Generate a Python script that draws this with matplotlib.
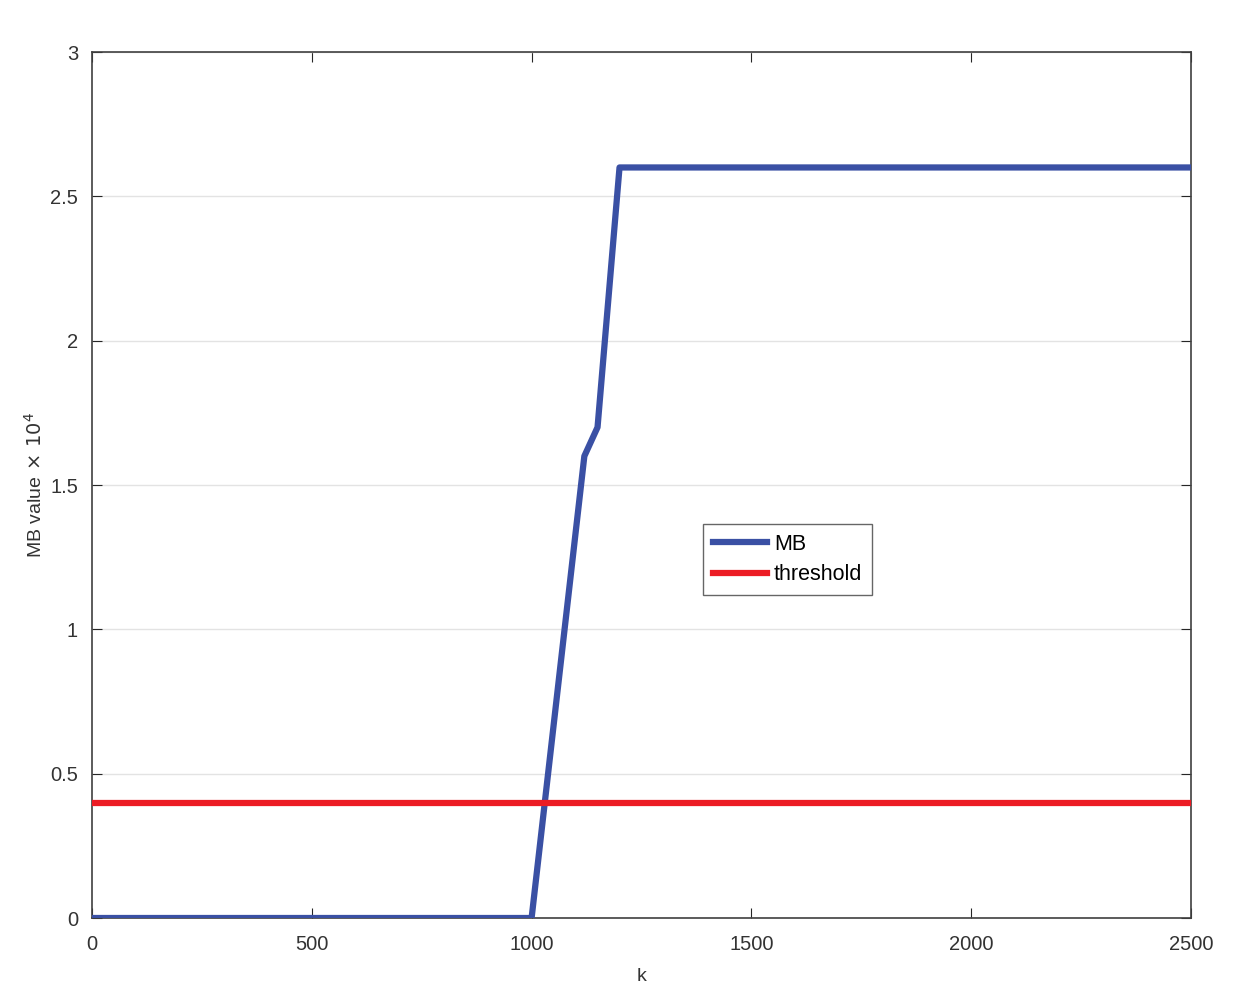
import matplotlib.pyplot as plt

plt.rcParams["font.family"] = ["Liberation Sans", "DejaVu Sans"]

# MB curve breakpoints (k, MB value x 1e4)
k_mb = [0, 1000, 1120, 1150, 1200, 2500]
mb_values = [0.0, 0.0, 1.6, 1.7, 2.6, 2.6]

k_threshold = [0, 2500]
threshold_values = [0.4, 0.4]

fig = plt.figure(figsize=(12.5, 9.84), dpi=100)
ax = fig.add_axes([92 / 1250, 1 - 918 / 984, 1099 / 1250, 866 / 984])

ax.plot(k_mb, mb_values, color="#3a50a4", linewidth=4.5, label="MB", zorder=3)
ax.plot(k_threshold, threshold_values, color="#ec1c24", linewidth=4.5, label="threshold", zorder=3)

ax.set_xlim(0, 2500)
ax.set_ylim(0, 3)
ax.set_xticks([0, 500, 1000, 1500, 2000, 2500])
ax.set_yticks([0, 0.5, 1, 1.5, 2, 2.5, 3])
ax.set_yticklabels(["0", "0.5", "1", "1.5", "2", "2.5", "3"])

ax.yaxis.grid(True, color="#e3e3e3", linewidth=1)
ax.set_axisbelow(True)
ax.tick_params(direction="in", top=True, right=True, length=7, colors="#262626",
               labelsize=14.5, labelcolor="#333333")
ax.tick_params(axis="y", pad=10)
ax.tick_params(axis="x", pad=12)
for s in ax.spines.values():
    s.set_color("#404040")
    s.set_linewidth(1.2)

ax.set_xlabel("k", fontsize=14, color="#333333", labelpad=10)
ax.set_ylabel(r"MB value$\,\times\,10^4$", fontsize=14, color="#333333", labelpad=3)

leg = ax.legend(loc="upper left", bbox_to_anchor=(611 / 1099, 1 - (524 - 52) / 866),
                borderaxespad=0, fontsize=15.5, frameon=True, fancybox=False,
                edgecolor="#404040", handlelength=2.5, borderpad=0.45,
                labelspacing=0.45, handletextpad=0.35)
leg.get_frame().set_linewidth(1.0)

fig.savefig("out.png", dpi=100)
